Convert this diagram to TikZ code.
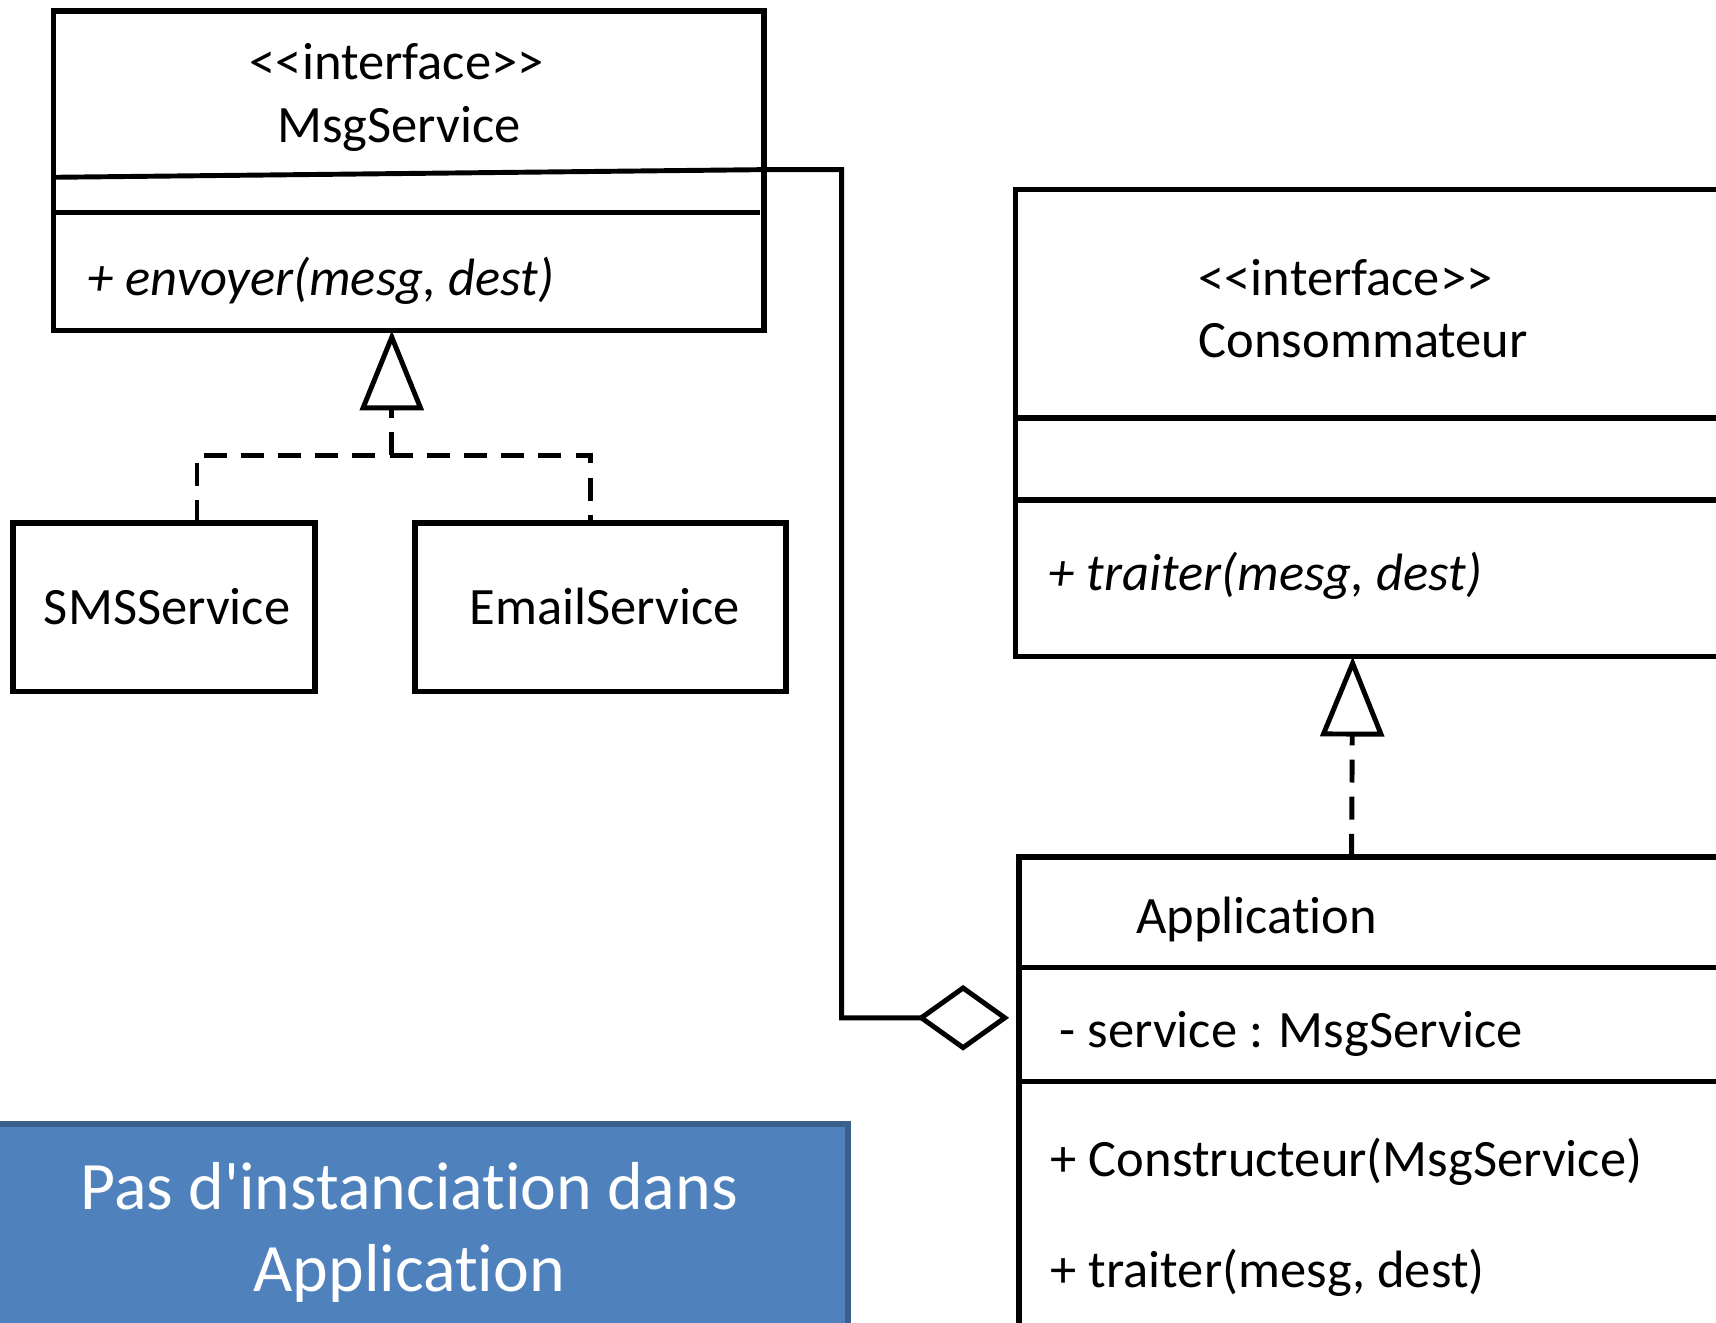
\documentclass[tikz,border=0pt]{standalone}
\usepackage{fontspec}
\newfontfamily\calibri{Carlito}[Ligatures=NoCommon]
\usetikzlibrary{arrows.meta}
\definecolor{noteblue}{HTML}{4F81BD}
\definecolor{noteedge}{HTML}{3A5F8B}
\newcommand\umlfont{\calibri\fontsize{48}{58}\selectfont}
\newcommand\notefont{\calibri\fontsize{62}{75}\selectfont}

\tikzset{
  umlbox/.style={draw, line width=5pt, rectangle, anchor=north west, outer sep=0pt, inner sep=0pt},
  umltext/.style={font=\umlfont, inner sep=0pt, anchor=base west},
  dashline/.style={line width=4.5pt, dash pattern=on 21pt off 13pt},
  realize/.style={dashline, -{Triangle[open, length=73pt, width=58pt]}},
  aggreg/.style={line width=4.5pt, -{Diamond[open, length=84pt, width=60pt]}},
}

\begin{document}
\begin{tikzpicture}[x=1pt, y=-1pt]
\useasboundingbox (0,0) rectangle (1568,1208);
\clip (0,0) rectangle (1568,1208);

% class boxes
\node[umlbox, minimum width=649pt, minimum height=292pt] (msg) at (49,10) {};
\node[umlbox, minimum width=276pt, minimum height=154pt] (sms) at (12,478) {};
\node[umlbox, minimum width=339pt, minimum height=154pt] (email) at (379,478) {};
\node[umlbox, minimum width=700pt, minimum height=427pt] (cons) at (928,173) {};
\node[umlbox, minimum width=700pt, minimum height=480pt] (app) at (931,783) {};
\node[umlbox, fill=noteblue, draw=noteedge, minimum width=795pt, minimum height=220pt] (note) at (-20,1027) {};

% compartments
\draw[line width=5pt] ([yshift=-184pt]msg.north west) -- ([yshift=-184pt, xshift=-4pt]msg.north east);
\draw[line width=5pt] ([yshift=-209pt]cons.north west) -- ([yshift=-209pt]cons.north east);
\draw[line width=5pt] ([yshift=-284pt]cons.north west) -- ([yshift=-284pt]cons.north east);
\draw[line width=5pt] ([yshift=-101pt]app.north west) -- ([yshift=-101pt]app.north east);
\draw[line width=5pt] ([yshift=-205pt]app.north west) -- ([yshift=-205pt]app.north east);

% texts
\node[umltext] (msgstereo) at (228,73) {<<interface>>};
\node[umltext] (msgname) at (253,130) {MsgService};
\node[umltext, font=\umlfont\itshape] (msgop) at (80,270) {+ envoyer(mesg, dest)};
\node[umltext] (smsname) at (40,571) {SMSService};
\node[umltext] (emailname) at (429,571) {EmailService};
\node[umltext] (consstereo) at (1095,270) {<<interface>>};
\node[umltext] (consname) at (1095,327) {Consommateur};
\node[umltext, font=\umlfont\itshape] (consop) at (958,540) {+ traiter(mesg, dest)};
\node[umltext] (appname) at (1038,853) {Application};
\node[umltext] (appattr) at (968,957) {- service : MsgService};
\node[umltext] (appctor) at (960,1075) {+ Constructeur(MsgService)};
\node[umltext] (appop) at (960,1176) {+ traiter(mesg, dest)};
\node[font=\notefont, text=white, inner sep=0pt, anchor=base] (noteline1) at (374,1105) {Pas d'instanciation dans};
\node[font=\notefont, text=white, inner sep=0pt, anchor=base] (noteline2) at (374,1180) {Application};

% relations
\draw[aggreg] ([yshift=-152pt]msg.north west) -- ([yshift=-145pt]msg.north east) -- ++(71,0)
  |- ([xshift=-9pt, yshift=-147pt]app.north west);
\coordinate (fork) at (358,416);
\draw[dashline] ([xshift=30pt]sms.north) |- (fork) -| ([xshift=-9pt]email.north);
\draw[realize] (fork) -- (fork |- msg.south);
\draw[realize] ([xshift=304pt]app.north west) -- ([xshift=308pt]cons.south west);
\end{tikzpicture}
\end{document}
